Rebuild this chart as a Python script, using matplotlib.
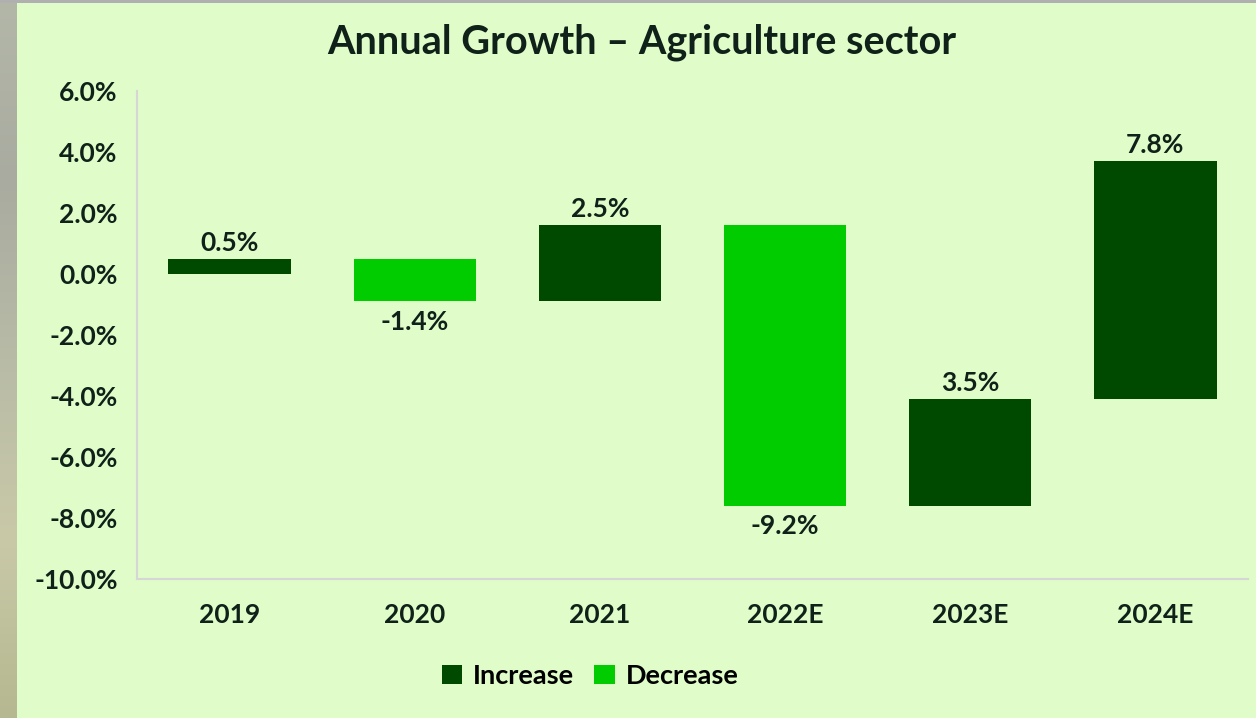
import numpy as np
import matplotlib.pyplot as plt
from matplotlib.patches import Patch

# annual growth, agriculture sector (%)
years = ["2019", "2020", "2021", "2022E", "2023E", "2024E"]
growth = [0.5, -1.4, 2.5, -9.2, 3.5, 7.8]
y_ticks = [6, 4, 2, 0, -2, -4, -6, -8, -10]

dark_green = "#004a00"
light_green = "#00cc00"
panel_bg = "#e0fcc8"
ink = "#0f2119"

plt.rcParams['font.family'] = ['Lato', 'DejaVu Sans']
plt.rcParams['font.weight'] = 'bold'

W, H = 1256, 718
fig = plt.figure(figsize=(W / 100, H / 100), dpi=100)
fig.patch.set_facecolor(panel_bg)

# photo strip on the left edge and thin grey band on top
strip = fig.add_axes([0, 0, 17 / W, 1])
grad = np.linspace(0, 1, 256).reshape(-1, 1)
strip.imshow(grad, aspect='auto', cmap=plt.cm.colors.LinearSegmentedColormap.from_list(
    "bg", ["#b3b7a8", "#a9aba0", "#b8bba6", "#c9c9a8", "#b5b890"]), extent=[0, 1, 0, 1])
strip.axis("off")
top = fig.add_axes([0, 1 - 3 / H, 1, 3 / H])
top.set_facecolor("#b0b0b0")
top.set_xticks([])
top.set_yticks([])
for s in top.spines.values():
    s.set_visible(False)

ax = fig.add_axes([137 / W, 1 - 579 / H, (1248 - 137) / W, (579 - 91) / H])
ax.set_facecolor(panel_bg)

# waterfall: each bar runs from the previous running total to the new one
ends = np.cumsum(growth)
starts = ends - np.array(growth)
x = np.arange(len(years))
colors = [dark_green if g > 0 else light_green for g in growth]
ax.bar(x, np.array(growth), bottom=starts, width=0.66, color=colors, zorder=3)

for i, g in enumerate(growth):
    label = f"{g:.1f}%"
    if g > 0:
        ax.annotate(label, (x[i], ends[i]), xytext=(0, 3), textcoords="offset points",
                    ha="center", va="bottom", fontsize=19, color=ink, fontweight="bold")
    else:
        ax.annotate(label, (x[i], ends[i]), xytext=(0, -6), textcoords="offset points",
                    ha="center", va="top", fontsize=19, color=ink, fontweight="bold")

ax.set_xlim(-0.5, len(years) - 0.5)
ax.set_ylim(-10, 6)
ax.set_yticks(y_ticks)
ax.set_yticklabels([f"{t:.1f}%" for t in y_ticks])
ax.set_xticks(x)
ax.set_xticklabels(years)
ax.tick_params(length=0, labelsize=19, colors=ink)
ax.tick_params(axis="y", pad=14)
ax.tick_params(axis="x", pad=17)
for lab in ax.get_xticklabels() + ax.get_yticklabels():
    lab.set_fontweight("bold")

for side in ["top", "right"]:
    ax.spines[side].set_visible(False)
for side in ["left", "bottom"]:
    ax.spines[side].set_color("#d6d6d6")
    ax.spines[side].set_linewidth(1.5)

fig.text(642 / W, 1 - 42 / H, "Annual Growth – Agriculture sector", ha="center", va="center",
         fontsize=28.5, fontweight="bold", color=ink)

handles = [Patch(facecolor=dark_green, label="Increase"),
           Patch(facecolor=light_green, label="Decrease")]
fig.legend(handles=handles, loc="center", bbox_to_anchor=(590 / W, 1 - 676 / H), ncol=2,
           frameon=False, handlelength=0.75, handleheight=0.75, handletextpad=0.4,
           columnspacing=0.75, prop={"size": 19.5, "weight": "bold"})

fig.savefig("out.png", dpi=100, facecolor=fig.get_facecolor())
